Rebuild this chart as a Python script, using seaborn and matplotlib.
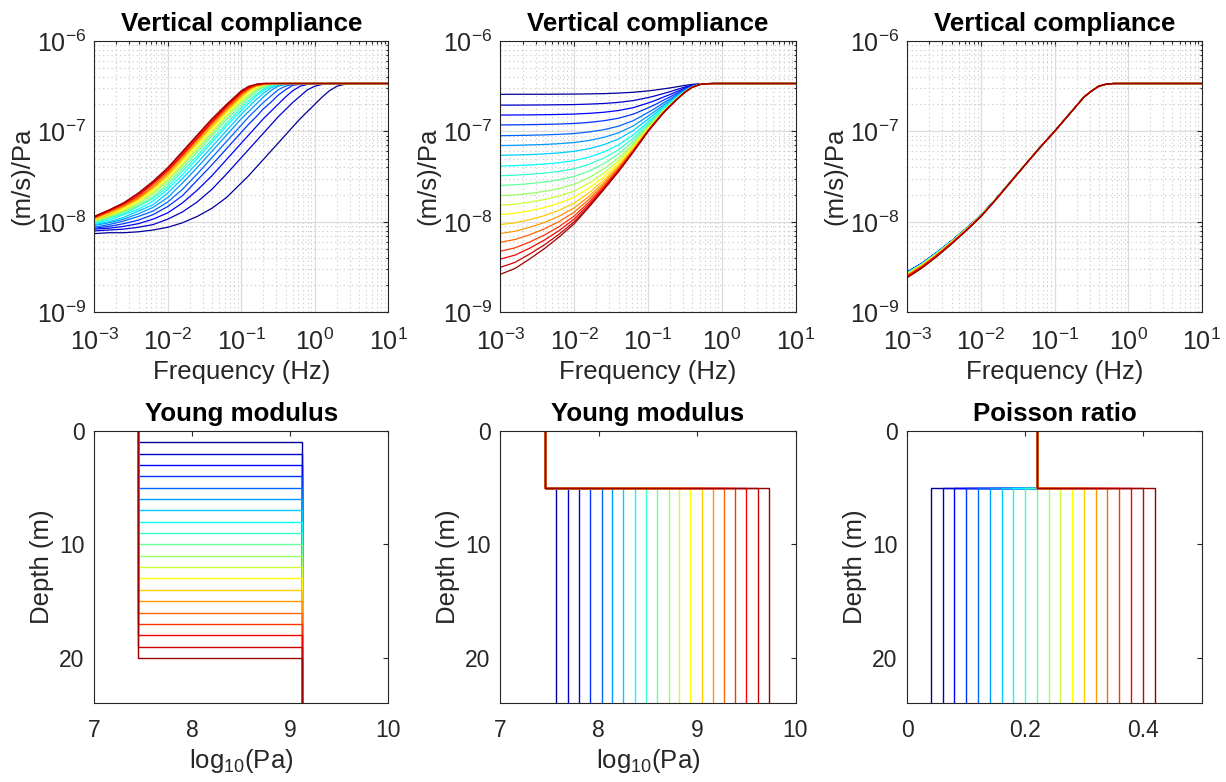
import numpy as np
import pandas as pd
import matplotlib
matplotlib.use("Agg")
import matplotlib.pyplot as plt
import seaborn as sns
from matplotlib.ticker import LogLocator, NullFormatter, FixedLocator

# ---------------- data (log10 values) ----------------
FREQ_LOG10 = [-3.0, -2.8, -2.6, -2.4, -2.2, -2.0, -1.8, -1.6, -1.4, -1.2, -1.0,
              -0.9, -0.8, -0.7, -0.6, -0.5, -0.4, -0.3, -0.2, -0.1, 0.0,
              0.1, 0.2, 0.3, 0.4, 0.5, 0.6, 0.8, 1.0]

# Panel 1: thickness of soft top layer 1..20 m  (log10 compliance)
COMP_THICKNESS = [
    [-8.13, -8.12, -8.12, -8.11, -8.09, -8.06, -8.01, -7.94, -7.85, -7.73, -7.57, -7.49, -7.40, -7.31, -7.22, -7.13, -7.04, -6.95, -6.86, -6.78, -6.70, -6.62, -6.55, -6.50, -6.48, -6.47, -6.47, -6.47, -6.47],
    [-8.10, -8.09, -8.08, -8.06, -8.03, -7.97, -7.89, -7.78, -7.64, -7.47, -7.29, -7.20, -7.11, -7.02, -6.93, -6.84, -6.76, -6.68, -6.61, -6.54, -6.50, -6.48, -6.47, -6.47, -6.47, -6.47, -6.47, -6.47, -6.47],
    [-8.08, -8.07, -8.05, -8.02, -7.97, -7.90, -7.79, -7.65, -7.49, -7.31, -7.13, -7.04, -6.95, -6.86, -6.78, -6.70, -6.62, -6.55, -6.50, -6.48, -6.47, -6.47, -6.47, -6.47, -6.47, -6.47, -6.47, -6.47, -6.47],
    [-8.07, -8.05, -8.02, -7.98, -7.92, -7.83, -7.71, -7.54, -7.37, -7.19, -7.01, -6.92, -6.84, -6.75, -6.68, -6.60, -6.54, -6.49, -6.48, -6.47, -6.47, -6.47, -6.47, -6.47, -6.47, -6.47, -6.47, -6.47, -6.47],
    [-8.06, -8.03, -7.99, -7.94, -7.88, -7.78, -7.64, -7.47, -7.29, -7.11, -6.93, -6.84, -6.76, -6.68, -6.61, -6.54, -6.50, -6.48, -6.47, -6.47, -6.47, -6.47, -6.47, -6.47, -6.47, -6.47, -6.47, -6.47, -6.47],
    [-8.04, -8.01, -7.97, -7.91, -7.84, -7.73, -7.57, -7.40, -7.22, -7.04, -6.86, -6.78, -6.70, -6.62, -6.55, -6.50, -6.48, -6.47, -6.47, -6.47, -6.47, -6.47, -6.47, -6.47, -6.47, -6.47, -6.47, -6.47, -6.47],
    [-8.03, -8.00, -7.95, -7.88, -7.81, -7.68, -7.52, -7.35, -7.17, -6.99, -6.81, -6.73, -6.65, -6.58, -6.52, -6.49, -6.47, -6.47, -6.47, -6.47, -6.47, -6.47, -6.47, -6.47, -6.47, -6.47, -6.47, -6.47, -6.47],
    [-8.02, -7.98, -7.92, -7.86, -7.77, -7.64, -7.48, -7.30, -7.12, -6.94, -6.77, -6.69, -6.61, -6.55, -6.50, -6.48, -6.47, -6.47, -6.47, -6.47, -6.47, -6.47, -6.47, -6.47, -6.47, -6.47, -6.47, -6.47, -6.47],
    [-8.01, -7.96, -7.91, -7.83, -7.74, -7.61, -7.44, -7.27, -7.09, -6.91, -6.74, -6.66, -6.59, -6.53, -6.49, -6.48, -6.47, -6.47, -6.47, -6.47, -6.47, -6.47, -6.47, -6.47, -6.47, -6.47, -6.47, -6.47, -6.47],
    [-8.00, -7.95, -7.89, -7.82, -7.72, -7.58, -7.41, -7.23, -7.05, -6.87, -6.71, -6.63, -6.56, -6.51, -6.48, -6.47, -6.47, -6.47, -6.47, -6.47, -6.47, -6.47, -6.47, -6.47, -6.47, -6.47, -6.47, -6.47, -6.47],
    [-7.99, -7.94, -7.88, -7.80, -7.69, -7.55, -7.38, -7.20, -7.02, -6.84, -6.68, -6.61, -6.54, -6.50, -6.48, -6.47, -6.47, -6.47, -6.47, -6.47, -6.47, -6.47, -6.47, -6.47, -6.47, -6.47, -6.47, -6.47, -6.47],
    [-7.99, -7.93, -7.87, -7.78, -7.67, -7.53, -7.36, -7.18, -7.00, -6.82, -6.66, -6.59, -6.53, -6.49, -6.48, -6.47, -6.47, -6.47, -6.47, -6.47, -6.47, -6.47, -6.47, -6.47, -6.47, -6.47, -6.47, -6.47, -6.47],
    [-7.98, -7.92, -7.86, -7.76, -7.65, -7.50, -7.33, -7.15, -6.97, -6.79, -6.64, -6.56, -6.51, -6.48, -6.47, -6.47, -6.47, -6.47, -6.47, -6.47, -6.47, -6.47, -6.47, -6.47, -6.47, -6.47, -6.47, -6.47, -6.47],
    [-7.98, -7.92, -7.84, -7.75, -7.63, -7.49, -7.31, -7.13, -6.95, -6.78, -6.62, -6.55, -6.50, -6.48, -6.47, -6.47, -6.47, -6.47, -6.47, -6.47, -6.47, -6.47, -6.47, -6.47, -6.47, -6.47, -6.47, -6.47, -6.47],
    [-7.96, -7.90, -7.83, -7.74, -7.62, -7.47, -7.29, -7.11, -6.93, -6.76, -6.61, -6.54, -6.50, -6.48, -6.47, -6.47, -6.47, -6.47, -6.47, -6.47, -6.47, -6.47, -6.47, -6.47, -6.47, -6.47, -6.47, -6.47, -6.47],
    [-7.96, -7.89, -7.82, -7.73, -7.60, -7.45, -7.27, -7.09, -6.91, -6.75, -6.59, -6.53, -6.49, -6.48, -6.47, -6.47, -6.47, -6.47, -6.47, -6.47, -6.47, -6.47, -6.47, -6.47, -6.47, -6.47, -6.47, -6.47, -6.47],
    [-7.95, -7.88, -7.81, -7.71, -7.58, -7.43, -7.26, -7.08, -6.90, -6.73, -6.58, -6.52, -6.49, -6.47, -6.47, -6.47, -6.47, -6.47, -6.47, -6.47, -6.47, -6.47, -6.47, -6.47, -6.47, -6.47, -6.47, -6.47, -6.47],
    [-7.95, -7.88, -7.80, -7.71, -7.57, -7.43, -7.25, -7.07, -6.89, -6.72, -6.57, -6.52, -6.48, -6.47, -6.47, -6.47, -6.47, -6.47, -6.47, -6.47, -6.47, -6.47, -6.47, -6.47, -6.47, -6.47, -6.47, -6.47, -6.47],
    [-7.94, -7.87, -7.79, -7.69, -7.56, -7.41, -7.23, -7.05, -6.87, -6.71, -6.56, -6.51, -6.48, -6.47, -6.47, -6.47, -6.47, -6.47, -6.47, -6.47, -6.47, -6.47, -6.47, -6.47, -6.47, -6.47, -6.47, -6.47, -6.47],
    [-7.94, -7.87, -7.79, -7.68, -7.55, -7.40, -7.22, -7.04, -6.86, -6.70, -6.55, -6.50, -6.48, -6.47, -6.47, -6.47, -6.47, -6.47, -6.47, -6.47, -6.47, -6.47, -6.47, -6.47, -6.47, -6.47, -6.47, -6.47, -6.47],
]

# Panel 2: Young modulus of the lower half-space varies
COMP_YOUNG = [
    [-6.590, -6.589, -6.589, -6.589, -6.588, -6.587, -6.585, -6.582, -6.576, -6.567, -6.552, -6.542, -6.530, -6.519, -6.505, -6.491, -6.480, -6.473, -6.471, -6.47, -6.47, -6.47, -6.47, -6.47, -6.47, -6.47, -6.47, -6.47, -6.47],
    [-6.709, -6.709, -6.708, -6.707, -6.705, -6.703, -6.698, -6.691, -6.679, -6.659, -6.626, -6.606, -6.583, -6.560, -6.534, -6.509, -6.487, -6.475, -6.472, -6.47, -6.47, -6.47, -6.47, -6.47, -6.47, -6.47, -6.47, -6.47, -6.47],
    [-6.819, -6.818, -6.817, -6.815, -6.812, -6.808, -6.800, -6.788, -6.769, -6.737, -6.686, -6.657, -6.623, -6.591, -6.556, -6.521, -6.492, -6.476, -6.472, -6.47, -6.47, -6.47, -6.47, -6.47, -6.47, -6.47, -6.47, -6.47, -6.47],
    [-6.928, -6.927, -6.925, -6.922, -6.918, -6.912, -6.900, -6.882, -6.854, -6.809, -6.740, -6.702, -6.658, -6.617, -6.574, -6.531, -6.496, -6.477, -6.472, -6.47, -6.47, -6.47, -6.47, -6.47, -6.47, -6.47, -6.47, -6.47, -6.47],
    [-7.047, -7.045, -7.042, -7.038, -7.032, -7.023, -7.006, -6.981, -6.942, -6.881, -6.791, -6.743, -6.689, -6.640, -6.589, -6.539, -6.500, -6.478, -6.472, -6.47, -6.47, -6.47, -6.47, -6.47, -6.47, -6.47, -6.47, -6.47, -6.47],
    [-7.156, -7.154, -7.149, -7.144, -7.135, -7.123, -7.100, -7.066, -7.016, -6.939, -6.831, -6.774, -6.713, -6.657, -6.600, -6.545, -6.502, -6.479, -6.472, -6.47, -6.47, -6.47, -6.47, -6.47, -6.47, -6.47, -6.47, -6.47, -6.47],
    [-7.264, -7.261, -7.256, -7.248, -7.237, -7.220, -7.191, -7.147, -7.084, -6.991, -6.864, -6.800, -6.732, -6.670, -6.609, -6.550, -6.504, -6.479, -6.472, -6.47, -6.47, -6.47, -6.47, -6.47, -6.47, -6.47, -6.47, -6.47, -6.47],
    [-7.382, -7.378, -7.371, -7.360, -7.345, -7.323, -7.284, -7.228, -7.150, -7.039, -6.895, -6.824, -6.748, -6.682, -6.616, -6.554, -6.506, -6.480, -6.472, -6.47, -6.47, -6.47, -6.47, -6.47, -6.47, -6.47, -6.47, -6.47, -6.47],
    [-7.490, -7.484, -7.474, -7.461, -7.441, -7.413, -7.364, -7.296, -7.203, -7.077, -6.917, -6.841, -6.761, -6.690, -6.622, -6.557, -6.507, -6.480, -6.472, -6.47, -6.47, -6.47, -6.47, -6.47, -6.47, -6.47, -6.47, -6.47, -6.47],
    [-7.596, -7.590, -7.577, -7.559, -7.534, -7.498, -7.439, -7.357, -7.250, -7.108, -6.936, -6.854, -6.770, -6.697, -6.626, -6.559, -6.508, -6.480, -6.472, -6.47, -6.47, -6.47, -6.47, -6.47, -6.47, -6.47, -6.47, -6.47, -6.47],
    [-7.711, -7.702, -7.685, -7.662, -7.630, -7.585, -7.512, -7.416, -7.293, -7.136, -6.951, -6.866, -6.778, -6.703, -6.629, -6.561, -6.509, -6.480, -6.472, -6.47, -6.47, -6.47, -6.47, -6.47, -6.47, -6.47, -6.47, -6.47, -6.47],
    [-7.816, -7.804, -7.782, -7.753, -7.714, -7.659, -7.573, -7.462, -7.326, -7.157, -6.963, -6.875, -6.784, -6.707, -6.632, -6.562, -6.509, -6.481, -6.472, -6.47, -6.47, -6.47, -6.47, -6.47, -6.47, -6.47, -6.47, -6.47, -6.47],
    [-7.919, -7.905, -7.877, -7.841, -7.792, -7.727, -7.627, -7.503, -7.354, -7.175, -6.972, -6.881, -6.789, -6.710, -6.634, -6.563, -6.510, -6.481, -6.472, -6.47, -6.47, -6.47, -6.47, -6.47, -6.47, -6.47, -6.47, -6.47, -6.47],
    [-8.030, -8.011, -7.975, -7.930, -7.871, -7.793, -7.678, -7.539, -7.378, -7.189, -6.980, -6.887, -6.793, -6.713, -6.635, -6.564, -6.510, -6.481, -6.472, -6.47, -6.47, -6.47, -6.47, -6.47, -6.47, -6.47, -6.47, -6.47, -6.47],
    [-8.128, -8.104, -8.060, -8.006, -7.936, -7.846, -7.718, -7.567, -7.396, -7.200, -6.986, -6.891, -6.796, -6.714, -6.637, -6.565, -6.510, -6.481, -6.472, -6.47, -6.47, -6.47, -6.47, -6.47, -6.47, -6.47, -6.47, -6.47, -6.47],
    [-8.225, -8.195, -8.142, -8.076, -7.995, -7.893, -7.751, -7.590, -7.411, -7.209, -6.990, -6.894, -6.798, -6.716, -6.638, -6.565, -6.510, -6.481, -6.472, -6.47, -6.47, -6.47, -6.47, -6.47, -6.47, -6.47, -6.47, -6.47, -6.47],
    [-8.325, -8.287, -8.222, -8.144, -8.050, -7.936, -7.781, -7.610, -7.423, -7.216, -6.994, -6.897, -6.800, -6.717, -6.638, -6.566, -6.511, -6.481, -6.472, -6.47, -6.47, -6.47, -6.47, -6.47, -6.47, -6.47, -6.47, -6.47, -6.47],
    [-8.412, -8.367, -8.290, -8.200, -8.094, -7.969, -7.804, -7.625, -7.433, -7.221, -6.997, -6.899, -6.801, -6.718, -6.639, -6.566, -6.511, -6.481, -6.472, -6.47, -6.47, -6.47, -6.47, -6.47, -6.47, -6.47, -6.47, -6.47, -6.47],
    [-8.503, -8.448, -8.355, -8.253, -8.134, -7.999, -7.824, -7.637, -7.440, -7.226, -6.999, -6.900, -6.802, -6.719, -6.639, -6.566, -6.511, -6.481, -6.472, -6.47, -6.47, -6.47, -6.47, -6.47, -6.47, -6.47, -6.47, -6.47, -6.47],
    [-8.580, -8.515, -8.409, -8.294, -8.165, -8.021, -7.838, -7.646, -7.446, -7.229, -7.001, -6.901, -6.803, -6.719, -6.640, -6.566, -6.511, -6.481, -6.472, -6.47, -6.47, -6.47, -6.47, -6.47, -6.47, -6.47, -6.47, -6.47, -6.47],
]

# Panel 3: Poisson ratio of the lower half-space varies
COMP_POISSON = [
    [-8.554, -8.457, -8.339, -8.211, -8.074, -7.926, -7.748, -7.559, -7.37, -7.18, -7.00, -6.905, -6.81, -6.715, -6.62, -6.555, -6.50, -6.478, -6.47, -6.47, -6.47, -6.47, -6.47, -6.47, -6.47, -6.47, -6.47, -6.47, -6.47],
    [-8.555, -8.457, -8.339, -8.212, -8.074, -7.926, -7.748, -7.559, -7.37, -7.18, -7.00, -6.905, -6.81, -6.715, -6.62, -6.555, -6.50, -6.478, -6.47, -6.47, -6.47, -6.47, -6.47, -6.47, -6.47, -6.47, -6.47, -6.47, -6.47],
    [-8.556, -8.458, -8.340, -8.212, -8.074, -7.926, -7.748, -7.559, -7.37, -7.18, -7.00, -6.905, -6.81, -6.715, -6.62, -6.555, -6.50, -6.478, -6.47, -6.47, -6.47, -6.47, -6.47, -6.47, -6.47, -6.47, -6.47, -6.47, -6.47],
    [-8.557, -8.459, -8.341, -8.213, -8.075, -7.927, -7.748, -7.559, -7.37, -7.18, -7.00, -6.905, -6.81, -6.715, -6.62, -6.555, -6.50, -6.478, -6.47, -6.47, -6.47, -6.47, -6.47, -6.47, -6.47, -6.47, -6.47, -6.47, -6.47],
    [-8.559, -8.460, -8.342, -8.214, -8.075, -7.927, -7.748, -7.559, -7.37, -7.18, -7.00, -6.905, -6.81, -6.715, -6.62, -6.555, -6.50, -6.478, -6.47, -6.47, -6.47, -6.47, -6.47, -6.47, -6.47, -6.47, -6.47, -6.47, -6.47],
    [-8.560, -8.462, -8.343, -8.215, -8.076, -7.927, -7.748, -7.559, -7.37, -7.18, -7.00, -6.905, -6.81, -6.715, -6.62, -6.555, -6.50, -6.478, -6.47, -6.47, -6.47, -6.47, -6.47, -6.47, -6.47, -6.47, -6.47, -6.47, -6.47],
    [-8.562, -8.463, -8.344, -8.216, -8.077, -7.928, -7.749, -7.559, -7.37, -7.18, -7.00, -6.905, -6.81, -6.715, -6.62, -6.555, -6.50, -6.478, -6.47, -6.47, -6.47, -6.47, -6.47, -6.47, -6.47, -6.47, -6.47, -6.47, -6.47],
    [-8.565, -8.465, -8.346, -8.217, -8.078, -7.929, -7.749, -7.559, -7.37, -7.18, -7.00, -6.905, -6.81, -6.715, -6.62, -6.555, -6.50, -6.478, -6.47, -6.47, -6.47, -6.47, -6.47, -6.47, -6.47, -6.47, -6.47, -6.47, -6.47],
    [-8.567, -8.468, -8.348, -8.218, -8.079, -7.929, -7.750, -7.559, -7.37, -7.18, -7.00, -6.905, -6.81, -6.715, -6.62, -6.555, -6.50, -6.478, -6.47, -6.47, -6.47, -6.47, -6.47, -6.47, -6.47, -6.47, -6.47, -6.47, -6.47],
    [-8.570, -8.470, -8.350, -8.220, -8.080, -7.930, -7.750, -7.560, -7.37, -7.18, -7.00, -6.905, -6.81, -6.715, -6.62, -6.555, -6.50, -6.478, -6.47, -6.47, -6.47, -6.47, -6.47, -6.47, -6.47, -6.47, -6.47, -6.47, -6.47],
    [-8.573, -8.473, -8.352, -8.222, -8.081, -7.931, -7.751, -7.560, -7.37, -7.18, -7.00, -6.905, -6.81, -6.715, -6.62, -6.555, -6.50, -6.478, -6.47, -6.47, -6.47, -6.47, -6.47, -6.47, -6.47, -6.47, -6.47, -6.47, -6.47],
    [-8.577, -8.476, -8.355, -8.224, -8.083, -7.932, -7.751, -7.561, -7.37, -7.18, -7.00, -6.905, -6.81, -6.715, -6.62, -6.555, -6.50, -6.478, -6.47, -6.47, -6.47, -6.47, -6.47, -6.47, -6.47, -6.47, -6.47, -6.47, -6.47],
    [-8.580, -8.479, -8.358, -8.226, -8.084, -7.933, -7.752, -7.561, -7.37, -7.18, -7.00, -6.905, -6.81, -6.715, -6.62, -6.555, -6.50, -6.478, -6.47, -6.47, -6.47, -6.47, -6.47, -6.47, -6.47, -6.47, -6.47, -6.47, -6.47],
    [-8.585, -8.483, -8.361, -8.228, -8.086, -7.934, -7.752, -7.561, -7.37, -7.18, -7.00, -6.905, -6.81, -6.715, -6.62, -6.555, -6.50, -6.478, -6.47, -6.47, -6.47, -6.47, -6.47, -6.47, -6.47, -6.47, -6.47, -6.47, -6.47],
    [-8.589, -8.487, -8.364, -8.231, -8.088, -7.935, -7.753, -7.562, -7.37, -7.18, -7.00, -6.905, -6.81, -6.715, -6.62, -6.555, -6.50, -6.478, -6.47, -6.47, -6.47, -6.47, -6.47, -6.47, -6.47, -6.47, -6.47, -6.47, -6.47],
    [-8.594, -8.491, -8.368, -8.233, -8.090, -7.936, -7.754, -7.562, -7.37, -7.18, -7.00, -6.905, -6.81, -6.715, -6.62, -6.555, -6.50, -6.478, -6.47, -6.47, -6.47, -6.47, -6.47, -6.47, -6.47, -6.47, -6.47, -6.47, -6.47],
    [-8.599, -8.495, -8.371, -8.236, -8.092, -7.938, -7.755, -7.562, -7.37, -7.18, -7.00, -6.905, -6.81, -6.715, -6.62, -6.555, -6.50, -6.478, -6.47, -6.47, -6.47, -6.47, -6.47, -6.47, -6.47, -6.47, -6.47, -6.47, -6.47],
    [-8.605, -8.500, -8.375, -8.239, -8.094, -7.939, -7.756, -7.563, -7.37, -7.18, -7.00, -6.905, -6.81, -6.715, -6.62, -6.555, -6.50, -6.478, -6.47, -6.47, -6.47, -6.47, -6.47, -6.47, -6.47, -6.47, -6.47, -6.47, -6.47],
    [-8.611, -8.505, -8.380, -8.243, -8.096, -7.941, -7.757, -7.563, -7.37, -7.18, -7.00, -6.905, -6.81, -6.715, -6.62, -6.555, -6.50, -6.478, -6.47, -6.47, -6.47, -6.47, -6.47, -6.47, -6.47, -6.47, -6.47, -6.47, -6.47],
    [-8.617, -8.511, -8.385, -8.246, -8.099, -7.943, -7.758, -7.564, -7.37, -7.18, -7.00, -6.905, -6.81, -6.715, -6.62, -6.555, -6.50, -6.478, -6.47, -6.47, -6.47, -6.47, -6.47, -6.47, -6.47, -6.47, -6.47, -6.47, -6.47],
]

# Depth profiles
E_TOP_LOG10 = 7.45
E_HALFSPACE_LOG10 = 9.12
INTERFACE_DEPTHS = [1, 2, 3, 4, 5, 6, 7, 8, 9, 10, 11, 12, 13, 14, 15, 16, 17, 18, 19, 20]
LAYER_DEPTH = 5
E_BOTTOM_LOG10 = [7.57, 7.69, 7.80, 7.91, 8.03, 8.14, 8.25, 8.37, 8.48, 8.59,
                  8.71, 8.82, 8.93, 9.05, 9.16, 9.27, 9.39, 9.50, 9.62, 9.73]
NU_TOP = 0.22
NU_BOTTOM = [0.04, 0.06, 0.08, 0.10, 0.12, 0.14, 0.16, 0.18, 0.20, 0.22,
             0.24, 0.26, 0.28, 0.30, 0.32, 0.34, 0.36, 0.38, 0.40, 0.42]
MODEL_BOTTOM_DEPTH = 30

# ---------------- style ----------------
JET20 = [(0, 0, 0.6), (0, 0, 0.8), (0, 0, 1), (0, 0.2, 1), (0, 0.4, 1),
         (0, 0.6, 1), (0, 0.8, 1), (0, 1, 1), (0.2, 1, 0.8), (0.4, 1, 0.6),
         (0.6, 1, 0.4), (0.8, 1, 0.2), (1, 1, 0), (1, 0.8, 0), (1, 0.6, 0),
         (1, 0.4, 0), (1, 0.2, 0), (1, 0, 0), (0.8, 0, 0), (0.6, 0, 0)]
NAMES = [f"c{i:02d}" for i in range(20)]
PALETTE = dict(zip(NAMES, JET20))

sns.set_theme(style="white")
plt.rcParams["font.family"] = ["Liberation Sans", "DejaVu Sans"]
plt.rcParams["mathtext.fontset"] = "custom"
plt.rcParams["mathtext.rm"] = "Liberation Sans"
plt.rcParams["mathtext.it"] = "Liberation Sans:italic"
plt.rcParams["mathtext.bf"] = "Liberation Sans:bold"
plt.rcParams["axes.unicode_minus"] = False

TXT = "#262626"
W, H = 1226, 782
fig = plt.figure(figsize=(W / 100, H / 100), dpi=100)


def px_axes(x0, y0, x1, y1):
    return fig.add_axes([x0 / W, 1 - y1 / H, (x1 - x0) / W, (y1 - y0) / H])


def compliance_frame(rows):
    recs = []
    for i, row in enumerate(rows):
        for lf, lc in zip(FREQ_LOG10, row):
            recs.append((NAMES[i], 10.0 ** lf, 10.0 ** lc))
    return pd.DataFrame(recs, columns=["curve", "freq", "comp"])


def profile_frame(x_top, depths, x_bottom):
    recs = []
    for i, (h, xb) in enumerate(zip(depths, x_bottom)):
        for x, d in [(x_top, 0), (x_top, h), (xb, h), (xb, MODEL_BOTTOM_DEPTH)]:
            recs.append((NAMES[i], x, d))
    return pd.DataFrame(recs, columns=["curve", "x", "depth"])


def style_box(ax):
    for sp in ax.spines.values():
        sp.set_visible(True)
        sp.set_color(TXT)
        sp.set_linewidth(0.8)


def compliance_panel(ax, rows):
    df = compliance_frame(rows)
    sns.lineplot(data=df, x="freq", y="comp", hue="curve", hue_order=NAMES,
                 palette=PALETTE, estimator=None, sort=False, legend=False,
                 lw=0.9, ax=ax)
    ax.set_xscale("log")
    ax.set_yscale("log")
    ax.set_xlim(1e-3, 1e1)
    ax.set_ylim(1e-9, 1e-6)
    ax.xaxis.set_major_locator(LogLocator(base=10, numticks=20))
    ax.yaxis.set_major_locator(LogLocator(base=10, numticks=20))
    ax.xaxis.set_minor_locator(LogLocator(base=10, subs=np.arange(2, 10), numticks=200))
    ax.yaxis.set_minor_locator(LogLocator(base=10, subs=np.arange(2, 10), numticks=200))
    ax.xaxis.set_minor_formatter(NullFormatter())
    ax.yaxis.set_minor_formatter(NullFormatter())
    ax.set_axisbelow(True)
    ax.grid(True, which="major", color="#dcdcdc", lw=0.9, ls="-")
    ax.grid(True, which="minor", color="#d0d0d0", lw=0.8, ls=(0, (1.2, 2.6)))
    style_box(ax)
    ax.tick_params(which="both", direction="in", top=True, right=True,
                   color=TXT, labelcolor=TXT, width=0.8)
    ax.tick_params(which="major", length=3.5, labelsize=18)
    ax.tick_params(which="minor", length=1.8)
    ax.tick_params(axis="x", which="major", pad=11.5)
    ax.tick_params(axis="y", which="major", pad=6)
    ax.set_xlabel("Frequency (Hz)", fontsize=18.5, color=TXT, labelpad=4)
    ax.set_ylabel("(m/s)/Pa", fontsize=18.5, color=TXT, labelpad=2)
    ax.set_title("Vertical compliance", fontsize=18.6, fontweight="bold",
                 color="black", pad=7)


def profile_panel(ax, df, xlim, xticks, xticklabels, title, xlabel):
    sns.lineplot(data=df, x="x", y="depth", hue="curve", hue_order=NAMES,
                 palette=PALETTE, estimator=None, sort=False, legend=False,
                 lw=1.0, ax=ax)
    ax.set_xlim(*xlim)
    ax.set_ylim(24, 0)
    ax.xaxis.set_major_locator(FixedLocator(xticks))
    ax.set_xticklabels(xticklabels)
    ax.yaxis.set_major_locator(FixedLocator([0, 10, 20]))
    ax.set_yticklabels(["0", "10", "20"])
    style_box(ax)
    ax.tick_params(which="both", direction="in", top=True, right=True,
                   color=TXT, labelcolor=TXT, width=0.8, length=3.5,
                   labelsize=16.5)
    ax.tick_params(axis="x", pad=11)
    ax.tick_params(axis="y", pad=7)
    ax.set_xlabel(xlabel, fontsize=18.5, color=TXT, labelpad=4)
    ax.set_ylabel("Depth (m)", fontsize=18.5, color=TXT, labelpad=4)
    ax.set_title(title, fontsize=18.6, fontweight="bold", color="black", pad=7)


ax1 = px_axes(94.3, 41, 388.3, 312.3)
ax2 = px_axes(500.3, 41, 795.7, 312.3)
ax3 = px_axes(907.3, 41, 1201.7, 312.3)
ax4 = px_axes(94.3, 431, 388.3, 703.3)
ax5 = px_axes(500.3, 431, 795.5, 703.3)
ax6 = px_axes(907.3, 431, 1201.7, 703.3)

compliance_panel(ax1, COMP_THICKNESS)
compliance_panel(ax2, COMP_YOUNG)
compliance_panel(ax3, COMP_POISSON)

profile_panel(ax4, profile_frame(E_TOP_LOG10, INTERFACE_DEPTHS, [E_HALFSPACE_LOG10] * 20),
              (7, 10), [7, 8, 9, 10], ["7", "8", "9", "10"], "Young modulus",
              r"log$_{10}$(Pa)")
profile_panel(ax5, profile_frame(E_TOP_LOG10, [LAYER_DEPTH] * 20, E_BOTTOM_LOG10),
              (7, 10), [7, 8, 9, 10], ["7", "8", "9", "10"], "Young modulus",
              r"log$_{10}$(Pa)")
profile_panel(ax6, profile_frame(NU_TOP, [LAYER_DEPTH] * 20, NU_BOTTOM),
              (0, 0.5), [0, 0.2, 0.4], ["0", "0.2", "0.4"], "Poisson ratio", "")

fig.savefig("out.png", dpi=100, facecolor="white")
